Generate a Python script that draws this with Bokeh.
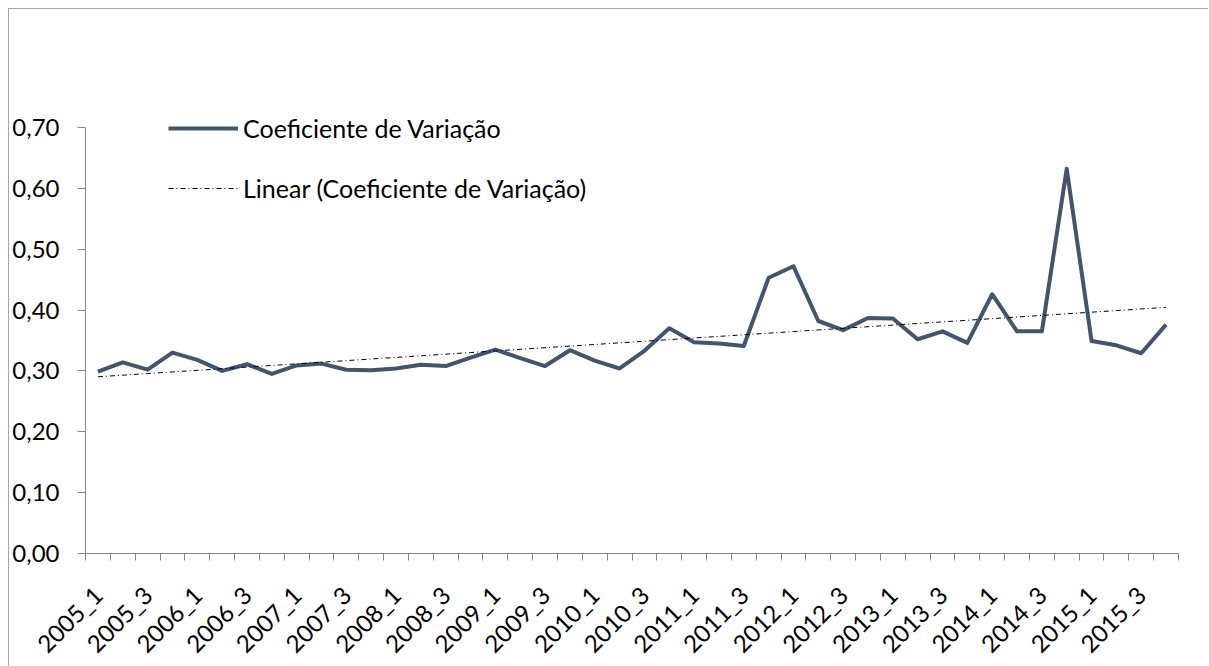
import numpy as np
from math import pi
from bokeh.plotting import figure
from bokeh.models import FixedTicker, CustomJSTickFormatter, Legend, LegendItem, Range1d
from bokeh.embed import file_html
from bokeh.resources import INLINE

quarters = [
    "2005_1", "2005_2", "2005_3", "2005_4", "2006_1", "2006_2", "2006_3", "2006_4",
    "2007_1", "2007_2", "2007_3", "2007_4", "2008_1", "2008_2", "2008_3", "2008_4",
    "2009_1", "2009_2", "2009_3", "2009_4", "2010_1", "2010_2", "2010_3", "2010_4",
    "2011_1", "2011_2", "2011_3", "2011_4", "2012_1", "2012_2", "2012_3", "2012_4",
    "2013_1", "2013_2", "2013_3", "2013_4", "2014_1", "2014_2", "2014_3", "2014_4",
    "2015_1", "2015_2", "2015_3", "2015_4",
]
coef_variacao = [
    0.299, 0.314, 0.302, 0.330, 0.318, 0.300, 0.311, 0.295, 0.309, 0.312, 0.302,
    0.301, 0.304, 0.310, 0.308, 0.322, 0.335, 0.321, 0.308, 0.334, 0.317, 0.304,
    0.333, 0.370, 0.347, 0.345, 0.341, 0.453, 0.472, 0.382, 0.367, 0.387, 0.386,
    0.352, 0.365, 0.346, 0.426, 0.365, 0.365, 0.632, 0.349, 0.342, 0.329, 0.376,
]
y_ticks = [0.0, 0.1, 0.2, 0.3, 0.4, 0.5, 0.6, 0.7]
series_name = "Coeficiente de Variação"
trend_name = "Linear (Coeficiente de Variação)"

FONT = "Lato"
AX_FS = "24px"
LEG_FS = "25px"

n = len(quarters)
xs = np.arange(n) + 0.5
ys = np.array(coef_variacao)
slope, intercept = np.polyfit(np.arange(n), ys, 1)
trend = intercept + slope * np.arange(n)

p = figure(
    frame_width=1093, frame_height=465,
    min_border_left=76, min_border_top=79, min_border_right=30, min_border_bottom=103,
    x_range=Range1d(0, n), y_range=Range1d(0, 0.764),
    output_backend="svg", toolbar_location=None,
    background_fill_color="white", border_fill_color="white",
    styles={"margin-left": "8px", "margin-top": "8px",
            "border-left": "1px solid #a6a6a6", "border-top": "1px solid #a6a6a6"},
)
p.outline_line_color = None
p.xgrid.grid_line_color = None
p.ygrid.grid_line_color = None

r_line = p.line(xs, ys, line_color="#44546a", line_width=4, line_join="round")
r_trend = p.line(xs, trend, line_color="black", line_width=1, line_dash="5 3 1 3")

# x axis: boundary ticks, labels every other quarter (at category centres)
label_pos = [float(xs[i]) for i in range(0, n, 2)]
p.xaxis.ticker = FixedTicker(ticks=label_pos, minor_ticks=list(range(n + 1)))
p.xaxis.major_label_overrides = {float(xs[i]): quarters[i] for i in range(0, n, 2)}
p.xaxis.major_tick_line_color = None
p.xaxis.minor_tick_line_color = "#868686"
p.xaxis.minor_tick_out = 7
p.xaxis.minor_tick_in = 0
p.xaxis.axis_line_color = "#868686"
p.xaxis.major_label_orientation = pi / 4
p.xaxis.major_label_text_font = FONT
p.xaxis.major_label_text_font_size = AX_FS
p.xaxis.major_label_text_color = "black"
p.xaxis.major_label_standoff = 30

# y axis
p.yaxis.ticker = FixedTicker(ticks=y_ticks, minor_ticks=[])
p.yaxis.formatter = CustomJSTickFormatter(code="return tick.toFixed(2).replace('.', ',');")
p.yaxis.bounds = (0, 0.7)
p.yaxis.axis_line_color = "#868686"
p.yaxis.major_tick_line_color = "#868686"
p.yaxis.major_tick_out = 8
p.yaxis.major_tick_in = 0
p.yaxis.major_label_text_font = FONT
p.yaxis.major_label_text_font_size = AX_FS
p.yaxis.major_label_text_color = "black"
p.yaxis.major_label_standoff = 18

legend = Legend(
    items=[LegendItem(label=series_name, renderers=[r_line]),
           LegendItem(label=trend_name, renderers=[r_trend])],
    location=(83, 350),
    orientation="vertical",
    glyph_width=70, glyph_height=20, spacing=30, padding=0, margin=0,
    label_standoff=5,
    label_text_font=FONT, label_text_font_size=LEG_FS, label_text_color="black",
    border_line_color=None, background_fill_alpha=0,
)
p.add_layout(legend)

open("out.html", "w").write(file_html(p, INLINE))
